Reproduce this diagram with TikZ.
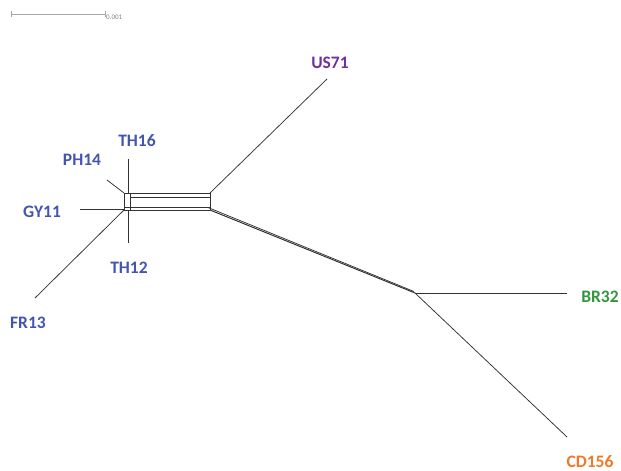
\documentclass[tikz,border=0pt]{standalone}
\usepackage{fontspec}
\setmainfont{Carlito}
\definecolor{cblue}{RGB}{67,85,176}
\definecolor{cpurple}{RGB}{112,48,160}
\definecolor{cgreen}{RGB}{52,150,60}
\definecolor{corange}{RGB}{240,120,40}
\definecolor{edge}{RGB}{50,50,50}
\begin{document}
\begin{tikzpicture}[x=1pt,y=-1pt,
  lbl/.style={font=\fontsize{17.5}{17.5}\selectfont\bfseries, inner sep=0pt},
  br/.style={draw=edge, line width=1pt},
  thin/.style={draw=edge, line width=0.75pt}]
\useasboundingbox (0,0) rectangle (621,471);
% scale bar
\coordinate (s1) at (11,14);
\coordinate (s2) at (105,14);
\draw[gray!70, line width=0.9pt] (s1) -- (s2);
\draw[gray!70, line width=0.9pt] ([yshift=-3]s1) -- ([yshift=3]s1);
\draw[gray!70, line width=0.9pt] ([yshift=-3]s2) -- ([yshift=3]s2);
\node[anchor=west, inner sep=1pt, text=gray, font=\fontsize{7}{7}\selectfont] (sl) at (s2) [yshift=-3pt] {0.001};
% network coordinates
\coordinate (lt) at (124,193);
\coordinate (lb) at (124,210);
\coordinate (rt) at (210,193);
\coordinate (rb) at (210,210);
\coordinate (hub) at (415,293);
% box
\draw[thin] (124,193) -- (210,193);
\draw[thin] (130,197) -- (210,197);
\draw[thin] (124,207) -- (210,207);
\draw[br] (124,210) -- (210,210);
\draw[thin] (lt) -- (lb);
\draw[thin] (130,193) -- (130,210);
\draw[thin] (rt) -- (rb);
% long double branch
\draw[br] (rb) -- (hub);
\draw[thin] (208,207.5) -- (414,291.5);
% leaves
\node[lbl, text=cpurple] (us71) at (330,63) {US71};
\coordinate (pus) at (327,79);
\draw[thin] (rt) -- (pus);
\node[lbl, text=cgreen] (br32) at (600,297) {BR32};
\coordinate (pbr) at (567,293);
\draw[thin] (hub) -- (pbr);
\node[lbl, text=corange] (cd) at (590,462) {CD156};
\coordinate (pcd) at (567,437);
\draw[thin] (hub) -- (pcd);
\node[lbl, text=cblue] (th16) at (137,141) {TH16};
\coordinate (pth16) at (128,159);
\draw[thin] (pth16) -- (128,193);
\node[lbl, text=cblue] (th12) at (129,268) {TH12};
\coordinate (pth12) at (128,243);
\draw[thin] (128,210) -- (pth12);
\node[lbl, text=cblue] (ph14) at (82,160) {PH14};
\coordinate (pph) at (107,180);
\draw[thin] (pph) -- (lt);
\node[lbl, text=cblue] (gy11) at (42,212) {GY11};
\coordinate (pgy) at (80,209);
\draw[thin] (pgy) -- (124,209);
\node[lbl, text=cblue] (fr13) at (28,323) {FR13};
\coordinate (pfr) at (35,298);
\draw[thin] (pfr) -- (lb);
\end{tikzpicture}
\end{document}
